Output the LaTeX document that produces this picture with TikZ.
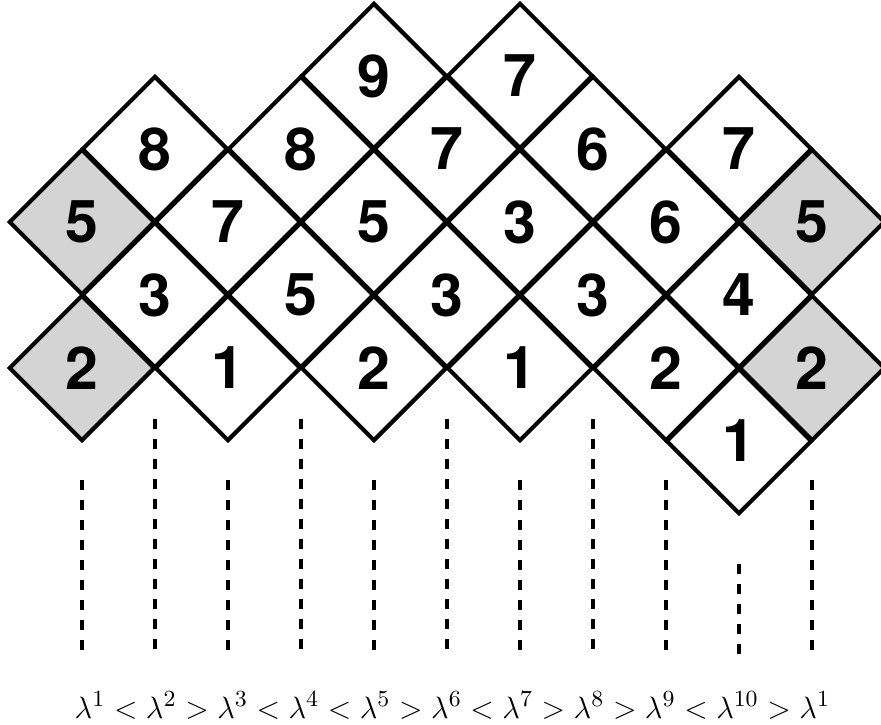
\documentclass[tikz,border=0pt]{standalone}
\usepackage{fontspec}
\newfontfamily\digitfont{TeX Gyre Heros}
\usetikzlibrary{shapes.geometric}
\definecolor{wrapgray}{RGB}{212,212,212}
\tikzset{
	cell/.style={draw, line width=1.6pt, shape=diamond, shape aspect=1, minimum width=2cm, minimum height=2cm, inner sep=0pt, fill=white, font=\digitfont\bfseries\fontsize{23}{23}\selectfont},
	wrapcell/.style={cell, fill=wrapgray},
	cut/.style={line width=1.9pt, dash pattern=on 3.9pt off 3.9pt},
}
\begin{document}
\begin{tikzpicture}[line join=miter]
	\useasboundingbox (-1.123,0.041) rectangle (10.945,-9.877);
	% cuts between the columns
	\foreach \k in {0,2,4,6,8,10} \coordinate (t\k) at (\k,-6.534);
	\foreach \k in {1,3,5,7} \coordinate (t\k) at (\k,-5.699);
	\coordinate (t9) at (9,-7.685);
	\foreach \k in {0,...,10} {
		\coordinate (b\k) at (\k,-8.959);
		\draw[cut] (t\k) -- (b\k);
	}
	% the diamonds
	\foreach \k/\m/\v in {1/2/8, 1/4/3, 2/3/7, 2/5/1, 3/2/8, 3/4/5, 4/1/9, 4/3/5, 4/5/2,
		5/2/7, 5/4/3, 6/1/7, 6/3/3, 6/5/1, 7/2/6, 7/4/3, 8/3/6, 8/5/2, 9/2/7, 9/4/4, 9/6/1}
		\node[cell] (c\k-\m) at (\k,-\m) {\v};
	\foreach \k/\m/\v in {0/3/5, 0/5/2, 10/3/5, 10/5/2}
		\node[wrapcell] (c\k-\m) at (\k,-\m) {\v};
	% the order of the lambdas
	\node[anchor=base, inner sep=0pt, font=\fontsize{12.8}{15}\selectfont] (order) at (5.075,-9.795)
		{$\lambda^1 < \lambda^2 > \lambda^3 < \lambda^4 < \lambda^5 > \lambda^6 < \lambda^7 > \lambda^8 > \lambda^9 < \lambda^{10} > \lambda^1$};
\end{tikzpicture}
\end{document}
